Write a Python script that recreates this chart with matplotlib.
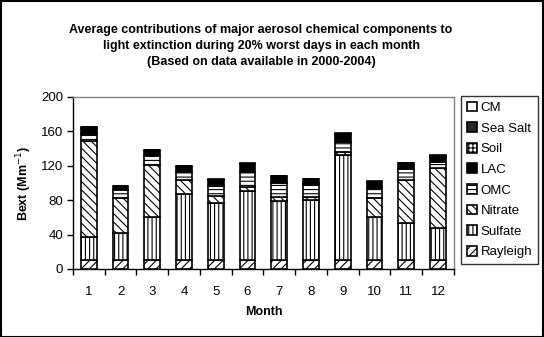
import matplotlib
matplotlib.use("Agg")
import matplotlib.pyplot as plt
from matplotlib.patches import Rectangle

plt.rcParams['font.family'] = ['Liberation Sans', 'DejaVu Sans']
plt.rcParams['hatch.linewidth'] = 0.8

months = ['1', '2', '3', '4', '5', '6', '7', '8', '9', '10', '11', '12']
rayleigh = [11, 11, 11, 11, 11, 11, 11, 11, 11, 11, 11, 11]
sulfate = [25.8, 31.2, 49.7, 75.7, 66.0, 80.0, 67.9, 69.1, 122.0, 49.7, 42.0, 36.2]
nitrate = [112.0, 40.6, 60.0, 16.6, 7.7, 4.5, 4.3, 3.1, 3.0, 21.3, 51.0, 70.8]
omc = [8.7, 8.9, 10.3, 9.7, 11.6, 17.5, 17.0, 15.1, 11.8, 12.4, 12.0, 6.6]
lac = [7.0, 4.6, 7.0, 6.5, 7.0, 8.9, 7.7, 6.1, 8.9, 6.6, 7.0, 5.8]
soil = [0.4, 0.3, 0.4, 0.3, 0.3, 0.4, 0.3, 0.3, 0.4, 0.3, 0.3, 0.4]
seasalt = [0.2, 0.2, 0.2, 0.2, 0.2, 0.2, 0.2, 0.2, 0.2, 0.2, 0.2, 0.2]
cm = [0.3, 0.2, 0.3, 0.3, 0.3, 0.3, 0.3, 0.3, 0.3, 0.3, 0.3, 1.5]

series = [
    ('Rayleigh', rayleigh, 'white', '////'),
    ('Sulfate', sulfate, 'white', '||||'),
    ('Nitrate', nitrate, 'white', '\\\\\\\\'),
    ('OMC', omc, 'white', '----'),
    ('LAC', lac, 'black', None),
    ('Soil', soil, 'white', '++++'),
    ('Sea Salt', seasalt, '0.15', None),
    ('CM', cm, 'white', None),
]

fig = plt.figure(figsize=(5.44, 3.37), dpi=100)
ax = fig.add_axes([0.134, 0.2018, 0.7004, 0.5104])

x = list(range(1, 13))
bottom = [0.0] * 12
handles = []
for name, vals, fc, hatch in series:
    b = ax.bar(x, vals, width=0.5, bottom=bottom, color=fc, edgecolor='black',
               linewidth=1.2, hatch=hatch, label=name, zorder=3)
    handles.append(b)
    bottom = [bo + v for bo, v in zip(bottom, vals)]

ax.set_xlim(0.5, 12.5)
ax.set_ylim(0, 200)
ax.set_yticks([0, 40, 80, 120, 160, 200])
ax.tick_params(axis='y', direction='out', length=4, width=1, labelsize=9.5, pad=3)
ax.set_xticks(x)
ax.set_xticklabels(months)
ax.tick_params(axis='x', which='major', length=0, labelsize=9.5, pad=12)
ax.set_xticks([i + 0.5 for i in range(0, 13)], minor=True)
ax.tick_params(axis='x', which='minor', direction='out', length=4, width=1)

for s in ['left', 'bottom']:
    ax.spines[s].set_color('black')
    ax.spines[s].set_linewidth(1)
for s in ['top', 'right']:
    ax.spines[s].set_color('#808080')
    ax.spines[s].set_linewidth(1)

ax.set_xlabel('Month', fontsize=9, fontweight='bold', labelpad=6)
ax.set_ylabel('Bext (Mm$^{-1}$)', fontsize=9, fontweight='bold', labelpad=5)

fig.text(0.48, 0.93, 'Average contributions of major aerosol chemical components to\n'
         'light extinction during 20% worst days in each month\n'
         '(Based on data available in 2000-2004)',
         ha='center', va='top', fontsize=9, fontweight='bold', linespacing=1.45)

leg = fig.legend(handles=handles[::-1], labels=[s[0] for s in series][::-1],
                 loc='upper left', bbox_to_anchor=(0.847, 0.716),
                 frameon=True, fancybox=False, edgecolor='black', fontsize=9.5,
                 handlelength=0.75, handleheight=0.75, handletextpad=0.3,
                 labelspacing=0.62, borderpad=0.45, borderaxespad=0)
leg.get_frame().set_linewidth(1)

fig.patches.append(Rectangle((0.001, 0.001), 0.997, 0.997, transform=fig.transFigure,
                             fill=False, edgecolor='black', linewidth=1.5))

fig.savefig('out.png', dpi=100)
